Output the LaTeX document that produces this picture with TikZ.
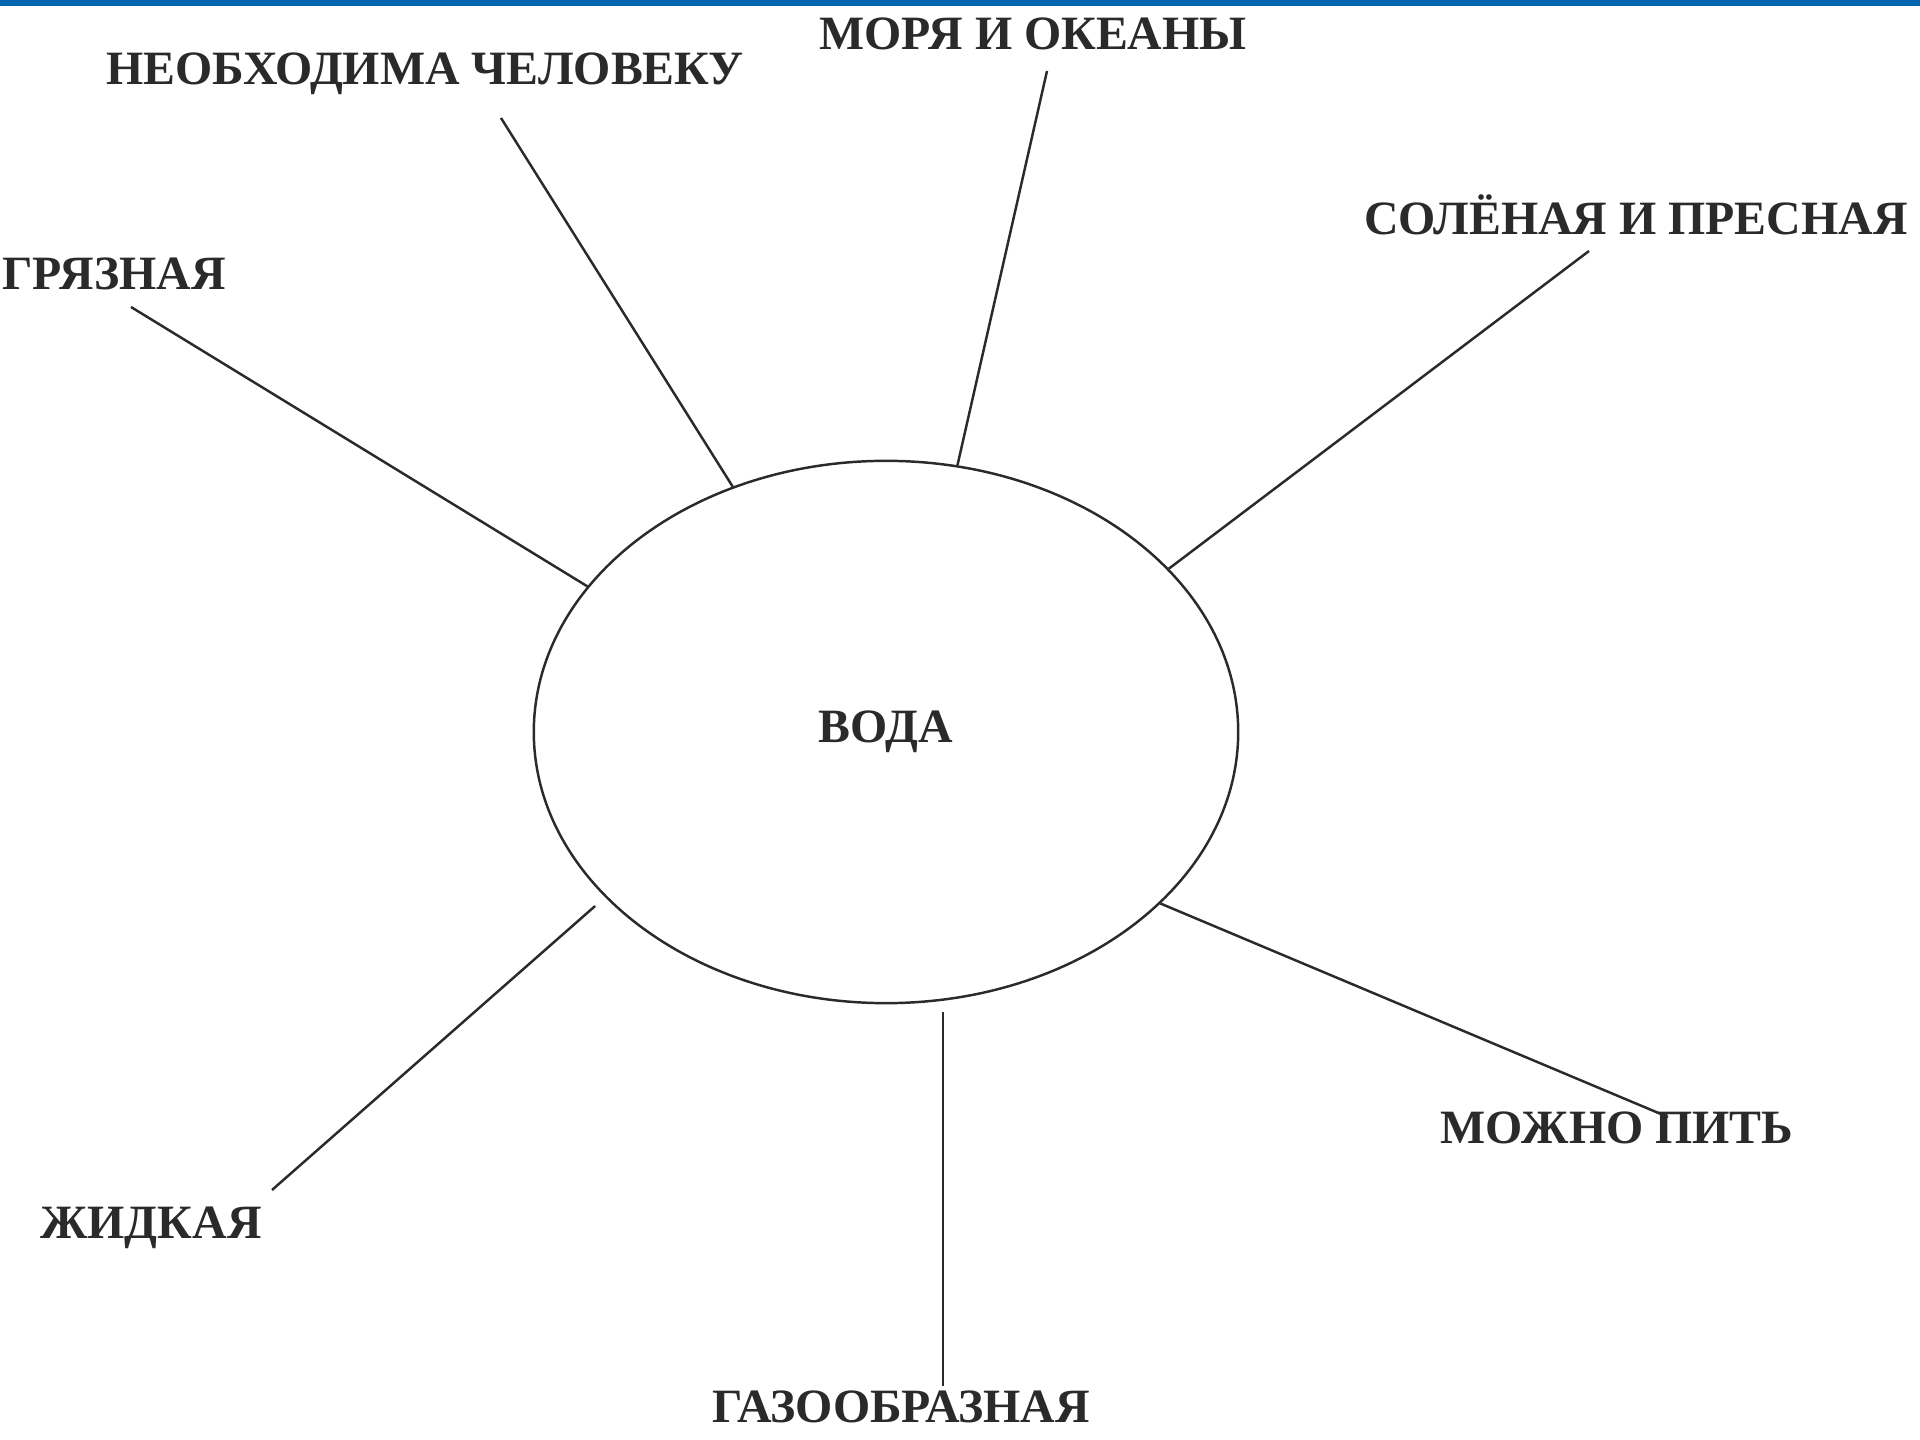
\documentclass[tikz,border=0pt]{standalone}
\usepackage{fontspec}
\setmainfont{Liberation Serif}
\usetikzlibrary{shapes.geometric}
\definecolor{barblue}{HTML}{0066B0}
\definecolor{inkgray}{HTML}{2A2A2A}

\begin{document}
\begin{tikzpicture}[x=0.01cm,y=-0.01cm,
    word/.style={font=\fontsize{13.6}{16}\selectfont\bfseries,text=inkgray,inner sep=0pt},
    ray/.style={draw=inkgray,line width=0.7pt}]
  \useasboundingbox (0,0) rectangle (1920,1440);
  \fill[white] (0,0) rectangle (1920,1440);
  \fill[barblue] (0,0) rectangle (1920,6);
  % центр
  \node[ellipse,draw=inkgray,line width=0.7pt,minimum width=7.04cm,minimum height=5.42cm,inner sep=0pt,
        word] (voda) at (886,732) {ВОДА};
  % подписи
  \node[word] (neobh) at (425,74) {НЕОБХОДИМА ЧЕЛОВЕКУ};
  \node[word] (morya) at (1033,34) {МОРЯ И ОКЕАНЫ};
  \node[word] (solen) at (1636,215) {СОЛЁНАЯ И ПРЕСНАЯ};
  \node[word] (gryaz) at (114,274) {ГРЯЗНАЯ};
  \node[word] (zhidk) at (151,1228) {ЖИДКАЯ};
  \node[word] (gazoo) at (901,1407) {ГАЗООБРАЗНАЯ};
  \node[word] (mozhn) at (1617,1128) {МОЖНО ПИТЬ};
  % концы лучей
  \coordinate (tneobh) at (501,118);
  \coordinate (tmorya) at (1047,71);
  \coordinate (tsolen) at (1589,251);
  \coordinate (tgryaz) at (131,307);
  \coordinate (tzhidk) at (272,1190);
  \coordinate (tgazoo) at (943,1386);
  \coordinate (tmozhn) at (1668,1117);
  % лучи
  \draw[ray] (voda.122.6) -- (tneobh);
  \draw[ray] (voda.75.8) -- (tmorya);
  \draw[ray] (voda.30.6) -- (tsolen);
  \draw[ray] (voda.154) -- (tgryaz);
  \draw[ray] ([shift={(-4,15)}]voda.209.1) -- (tzhidk);
  \draw[ray] ([yshift=-0.08cm]voda.south -| tgazoo) -- (tgazoo);
  \draw[ray] (voda.328.5) -- (tmozhn);
\end{tikzpicture}
\end{document}
